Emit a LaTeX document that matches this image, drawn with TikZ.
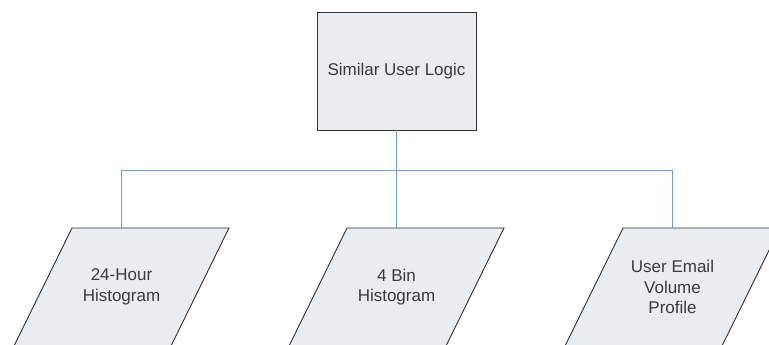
\documentclass[tikz,border=0pt]{standalone}
\usepackage{fontspec}
\setmainfont{Liberation Sans}
\definecolor{boxfill}{HTML}{EAEDEF}
\definecolor{boxline}{HTML}{303030}
\definecolor{wire}{HTML}{6F9FCF}
\definecolor{ink}{HTML}{3A3A3A}
\tikzset{
  blockbox/.style={draw=boxline, fill=boxfill, line width=0.9pt, rectangle,
    minimum width=159pt, minimum height=118pt, inner sep=0pt,
    text=ink, font=\fontsize{17}{20.5}\selectfont},
  paraedge/.style={draw=boxline, fill=boxfill, line width=0.9pt, line join=miter},
  paratext/.style={text=ink, align=center, inner sep=0pt,
    font=\fontsize{17}{20.5}\selectfont},
  wireline/.style={draw=wire, line width=1pt}
}
% data block: #1 name, #2 x of bounding-box centre, #3 text
\newcommand\datablock[3]{%
  \path[paraedge] (#2-49.5,228) -- (#2+107.5,228) -- (#2+49.5,346)
    -- (#2-107.5,346) -- cycle;
  \coordinate (#1-top) at (#2,228);
  \node[paratext] (#1) at (#2,287) {#3};
}
\begin{document}
\begin{tikzpicture}[x=1pt, y=-1pt]
  \clip (0,0) rectangle (769,345);
  \fill[white] (0,0) rectangle (769,345);

  \node[blockbox] (logic) at (396.5,71) {Similar User Logic};

  \datablock{hist24}{121.5}{24-Hour\\Histogram}
  \datablock{bin4}{396.5}{4 Bin\\Histogram}
  \datablock{volume}{672.5}{User Email\\Volume\\Profile}

  \coordinate (bus) at (396.5,170);
  \draw[wireline] (logic.south) -- (bus);
  \draw[wireline] (bus) -| (hist24-top);
  \draw[wireline] (bus) -- (bin4-top);
  \draw[wireline] (bus) -| (volume-top);
\end{tikzpicture}
\end{document}
